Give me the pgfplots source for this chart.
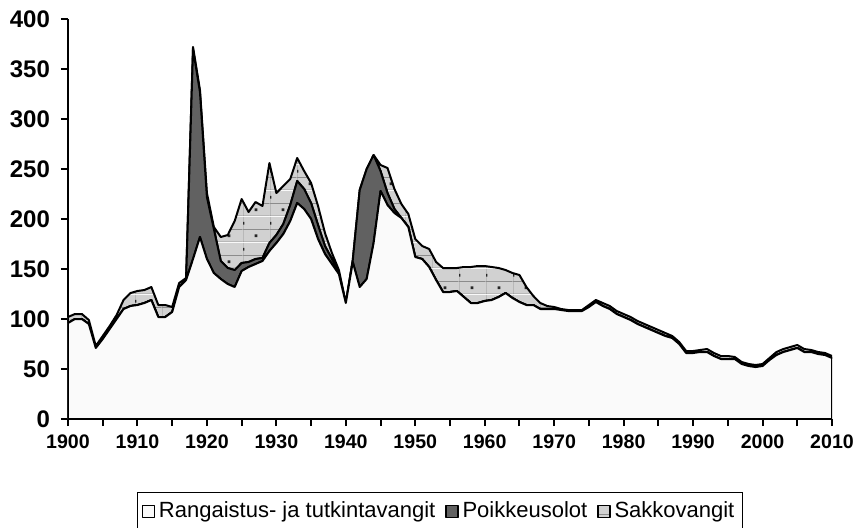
\documentclass[border=0pt]{standalone}
\usepackage{pgfplots}
\pgfplotsset{compat=1.18}
\usepackage{pgfplotstable}
\usepackage{fontspec}
\setmainfont{Liberation Sans}
\usetikzlibrary{patterns}

\pgfdeclarepatterninherentlycolored{sakko}{\pgfqpoint{0pt}{0pt}}{\pgfqpoint{13.5pt}{13pt}}{\pgfqpoint{13.5pt}{13pt}}{%
  \pgfsetfillcolor{black!18}%
  \pgfpathrectangle{\pgfpointorigin}{\pgfqpoint{13.5pt}{13pt}}\pgfusepath{fill}%
  \pgfsetstrokecolor{black!45}\pgfsetlinewidth{0.4pt}%
  \pgfpathmoveto{\pgfqpoint{0pt}{0pt}}\pgfpathlineto{\pgfqpoint{13.5pt}{0pt}}%
  \pgfpathmoveto{\pgfqpoint{0pt}{6.5pt}}\pgfpathlineto{\pgfqpoint{13.5pt}{6.5pt}}%
  \pgfpathmoveto{\pgfqpoint{0pt}{0pt}}\pgfpathlineto{\pgfqpoint{0pt}{13pt}}%
  \pgfusepath{stroke}%
  \pgfsetfillcolor{black!85}%
  \pgfpathrectangle{\pgfqpoint{6.05pt}{2.55pt}}{\pgfqpoint{1.4pt}{1.4pt}}%
  \pgfpathrectangle{\pgfqpoint{-0.7pt}{9.05pt}}{\pgfqpoint{1.4pt}{1.4pt}}%
  \pgfusepath{fill}%
}

\pgfplotstableread{
yr B P S
1900 96 0 6
1901 100 0 5
1902 100 0 5
1903 95 0 4
1904 71 0 2
1905 80 0 3
1906 90 0 3
1907 100 0 4
1908 110 0 9
1909 113 0 13
1910 114 0 14
1911 116 0 13
1912 119 0 13
1913 102 0 12
1914 102 0 12
1915 107 0 5
1916 132 0 4
1917 139 0 2
1918 160 210 2
1919 182 145 2
1920 160 62 4
1921 146 44 2
1922 140 18 24
1923 135 16 33
1924 132 17 49
1925 148 8 64
1926 152 5 50
1927 155 5 57
1928 158 3 52
1929 168 8 80
1930 176 8 42
1931 185 10 38
1932 198 16 26
1933 216 22 23
1934 210 20 18
1935 200 16 20
1936 180 14 19
1937 165 8 13
1938 155 5 6
1939 145 2 2
1940 116 0 0
1941 157 2 0
1942 132 97 0
1943 140 110 0
1944 176 88 0
1945 228 20 6
1946 214 12 25
1947 206 4 20
1948 201 0 14
1949 192 0 13
1950 162 0 18
1951 160 0 13
1952 152 0 18
1953 139 0 18
1954 127 0 24
1955 127 0 24
1956 128 0 23
1957 122 0 30
1958 116 0 36
1959 116 0 37
1960 118 0 35
1961 119 0 33
1962 122 0 29
1963 126 0 23
1964 121 0 25
1965 117 0 27
1966 114 0 18
1967 114 0 9
1968 110 0 6
1969 110 0 3
1970 110 0 2
1971 109 0 1
1972 108 0 1
1973 108 0 1
1974 108 0 1
1975 112 0 2
1976 117 0 2
1977 113 0 3
1978 110 0 3
1979 105 0 3
1980 102 0 3
1981 99 0 3
1982 95 0 3
1983 92 0 3
1984 89 0 3
1985 86 0 3
1986 83 0 3
1987 81 0 2
1988 75 0 2
1989 66 0 2
1990 66 0 2
1991 67 0 2
1992 67 0 3
1993 63 0 3
1994 60 0 3
1995 60 0 3
1996 60 0 2
1997 55 0 2
1998 53 0 2
1999 52 0 2
2000 53 0 2
2001 59 0 2
2002 64 0 3
2003 67 0 3
2004 69 0 3
2005 71 0 3
2006 67 0 3
2007 67 0 2
2008 65 0 2
2009 64 0 2
2010 61 0 2
}\data

\begin{document}
\begin{tikzpicture}
\path[use as bounding box] (-34pt,-54pt) rectangle (396pt,209.5pt);
\begin{axis}[
  at={(0pt,0pt)}, anchor=south west,
  width=382pt, height=200pt, scale only axis,
  xmin=1900, xmax=2010, ymin=0, ymax=400,
  stack plots=y,
  axis lines=left,
  axis line style={-, line width=1.1pt},
  tick style={line width=1pt, black},
  tick align=outside,
  major tick length=3.5pt, minor tick length=3.5pt,
  xtick={1900,1910,...,2010},
  minor xtick={1905,1915,...,2005},
  ytick={0,50,...,400},
  /pgf/number format/1000 sep={},
  /pgf/number format/assume math mode=true,
  yticklabel style={font=\fontsize{12}{13}\selectfont\bfseries, xshift=-2pt},
  xticklabel style={font=\fontsize{9.8}{11}\selectfont\bfseries, yshift=-1pt},
  legend columns=3,
  legend style={at={(0.487,-0.1825)}, anchor=north, draw=black, line width=0.7pt,
    font=\fontsize{11}{12}\selectfont, inner xsep=2pt, inner ysep=2.5pt,
    /tikz/every even column/.append style={column sep=3pt}},
  legend image code/.code={\draw[#1, line width=0.6pt] (0pt,-3pt) rectangle (6pt,3pt);},
  every axis plot/.append style={line join=round},
]
\addplot[draw=black, line width=1pt, fill=black!2] table[x=yr,y=B]{\data} \closedcycle;
\addlegendentry{Rangaistus- ja tutkintavangit}
\addplot[draw=black, line width=1pt, fill=black!62] table[x=yr,y=P]{\data} \closedcycle;
\addlegendentry{Poikkeusolot}
\addplot[draw=black, line width=1pt, pattern=sakko] table[x=yr,y=S]{\data} \closedcycle;
\addlegendentry{Sakkovangit}
\end{axis}
\end{tikzpicture}
\end{document}
